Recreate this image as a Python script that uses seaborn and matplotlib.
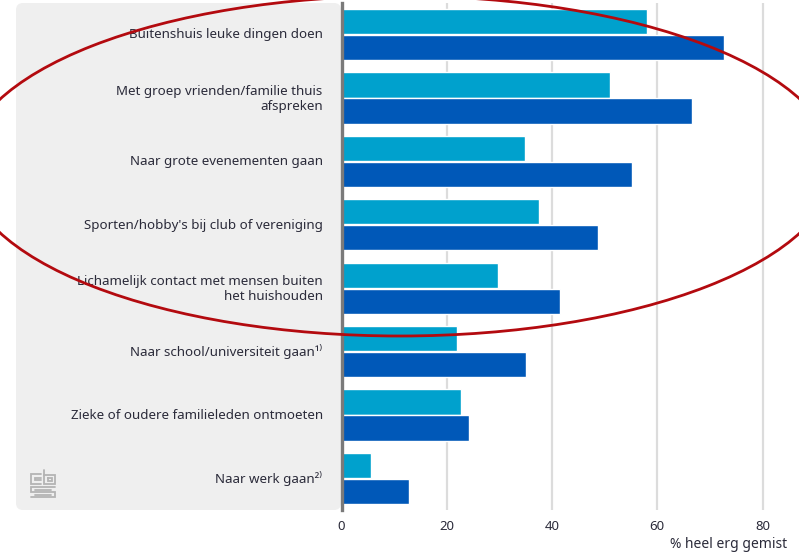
import matplotlib
matplotlib.use("Agg")
import matplotlib.pyplot as plt
import pandas as pd
import seaborn as sns
from matplotlib.patches import Ellipse, FancyBboxPatch
from matplotlib.lines import Line2D
from matplotlib.transforms import IdentityTransform, ScaledTranslation

categories = [
    "Buitenshuis leuke dingen doen",
    "Met groep vrienden/familie thuis\nafspreken",
    "Naar grote evenementen gaan",
    "Sporten/hobby's bij club of vereniging",
    "Lichamelijk contact met mensen buiten\nhet huishouden",
    "Naar school/universiteit gaan¹⁾",
    "Zieke of oudere familieleden ontmoeten",
    "Naar werk gaan²⁾",
]
series_names = ["Groep 1", "Groep 2"]
light_values = [58.0, 51.0, 34.9, 37.6, 29.7, 21.9, 22.7, 5.7]
dark_values = [72.7, 66.6, 55.2, 48.8, 41.5, 35.1, 24.3, 12.8]
x_ticks = [0, 20, 40, 60, 80]
x_title = "% heel erg gemist"

W, H = 799, 553
LIGHT = "#00A1CD"
DARK = "#0058B8"
TEXT = "#2B2B3A"

sns.set_theme(style="white")
plt.rcParams["font.family"] = ["Noto Sans", "DejaVu Sans"]

data = pd.DataFrame({
    "categorie": categories * 2,
    "groep": [series_names[0]] * len(categories) + [series_names[1]] * len(categories),
    "waarde": light_values + dark_values,
})

fig = plt.figure(figsize=(W / 100, H / 100), dpi=100, facecolor="white")


def fx(px):
    return px / W


def fy(py):
    return 1 - py / H


# Grey label panel behind the category names
panel = FancyBboxPatch(
    (16, H - 510), 325, 507,
    boxstyle="round,pad=0,rounding_size=7",
    transform=IdentityTransform(),
    fc="#EFEFEF", ec="none", zorder=-1,
)
fig.add_artist(panel)

ax = fig.add_axes([fx(341.5), fy(510), fx(799 - 341.5), fy(3) - fy(510)])
ax.patch.set_alpha(0)
ax.xaxis.grid(True, color="#DCDCDC", linewidth=1.6)
ax.set_axisbelow(True)

sns.barplot(
    data=data, y="categorie", x="waarde", hue="groep", order=categories,
    hue_order=series_names, palette=[LIGHT, DARK], orient="h",
    width=0.82, gap=0.03, saturation=1, legend=False, ax=ax,
)

ax.set_xlim(0, (799 - 341.5) / 5.2625)
ax.set_ylim(len(categories) - 0.5, -0.5)
ax.set_xticks(x_ticks)
ax.set_xlabel("")
ax.set_ylabel("")
for side in ["top", "right", "bottom"]:
    ax.spines[side].set_visible(False)
ax.spines["left"].set_color("#7A7A7A")
ax.spines["left"].set_linewidth(2.4)
ax.tick_params(axis="x", length=0, pad=7, labelsize=9.5, labelcolor=TEXT)
ax.tick_params(axis="y", length=0, pad=13.5)
nudge_up = ScaledTranslation(0, 1.2 / 100, fig.dpi_scale_trans)
for label in ax.get_yticklabels():
    label.set_fontsize(9.6)
    label.set_color(TEXT)
    label.set_ha("right")
    label.set_linespacing(1.15)
    label.set_transform(label.get_transform() + nudge_up)

fig.text(fx(787), fy(544), x_title, ha="right", va="center", fontsize=10, color=TEXT)

# Square-line wordmark in the panel corner
logo_color = "#B4B4B4"
logo_strokes = [
    ([41, 31, 31, 41], [474, 474, 484, 484]),
    ([41, 35, 35, 41], [478, 478, 480, 480]),
    ([44, 44, 55, 55, 44], [470, 484, 484, 475, 475]),
    ([48, 52, 52, 48, 48], [478, 478, 481, 481, 478]),
    ([55, 31, 31, 55, 55, 31], [487, 487, 492, 492, 497, 497]),
    ([35, 51], [489.5, 489.5]),
    ([35, 51], [494.5, 494.5]),
]
for xs, ys in logo_strokes:
    fig.add_artist(Line2D(
        [fx(v) for v in xs], [fy(v) for v in ys], transform=fig.transFigure,
        color=logo_color, lw=1.3, solid_joinstyle="miter",
    ))

# Red ellipse around the upper five categories
fig.add_artist(Ellipse(
    (fx(400), fy(166)), 870 / W, 340 / H, transform=fig.transFigure,
    fc="none", ec="#B30A0F", lw=2.0, zorder=10,
))

fig.savefig("out.png", dpi=100)
